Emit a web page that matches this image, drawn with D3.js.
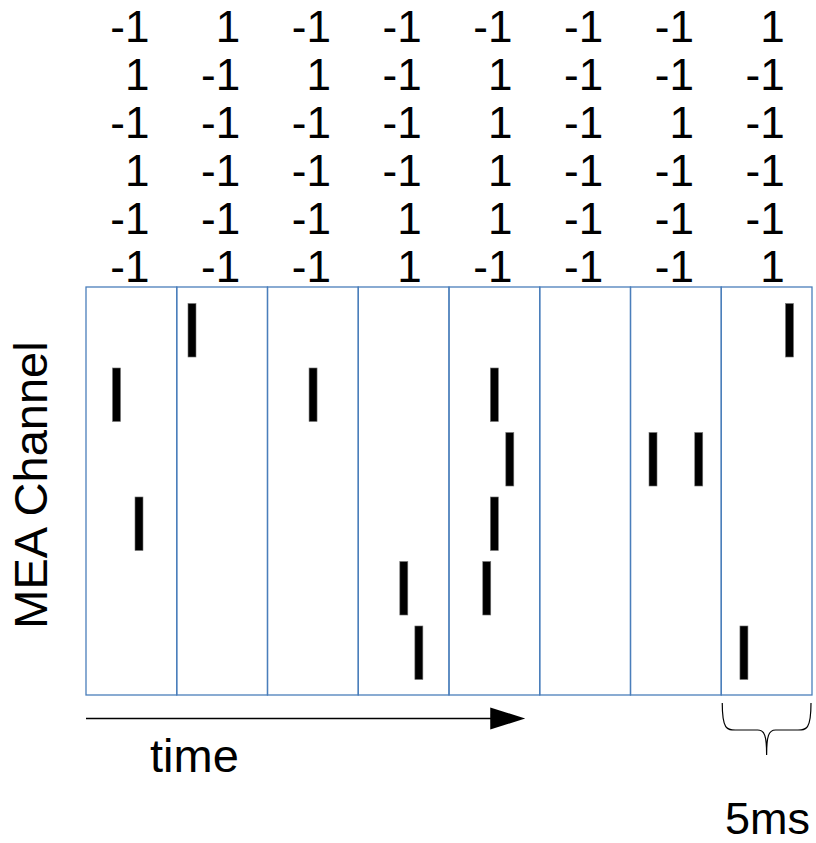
<!DOCTYPE html>
<html>
<head>
<meta charset="utf-8">
<script src="https://cdn.jsdelivr.net/npm/d3@7"></script>
<style>
  html, body { margin: 0; padding: 0; background: #fff; }
  svg { display: block; }
  text { font-family: "Liberation Sans", Arial, sans-serif; fill: #000; }
</style>
</head>
<body>
<svg id="chart" width="816" height="843"></svg>
<script>
// Time windows (5 ms each) and recording channels
const windows = [1, 2, 3, 4, 5, 6, 7, 8];
const windowMs = 5;
const channels = [1, 2, 3, 4, 5, 6];

// Binary code per channel (rows) and window (columns): 1 = spike in window
const codeRows = [
  [-1,  1, -1, -1, -1, -1, -1,  1],
  [ 1, -1,  1, -1,  1, -1, -1, -1],
  [-1, -1, -1, -1,  1, -1,  1, -1],
  [ 1, -1, -1, -1,  1, -1, -1, -1],
  [-1, -1, -1,  1,  1, -1, -1, -1],
  [-1, -1, -1,  1, -1, -1, -1,  1]
];

// Spike times (ms) for each channel
const spikeTimes = [
  [5.84, 38.76],
  [1.68, 12.51, 22.50],
  [23.35, 31.24, 33.76],
  [2.92, 22.50],
  [17.51, 22.08],
  [18.34, 36.25]
];

const svg = d3.select("#chart");
const plot = { left: 86, right: 812, top: 287, bottom: 695 };

const x = d3.scaleLinear()
  .domain([0, windows.length * windowMs])
  .range([plot.left, plot.right]);
const xWin = d3.scaleBand().domain(windows).range([plot.left, plot.right]);
const y = d3.scaleBand().domain(channels).range([298, 685]);
const yCode = d3.scalePoint().domain(channels).range([42, 282]);

// Code table above the raster
const codeG = svg.append("g");
codeRows.forEach((row, ci) => {
  codeG.selectAll(null)
    .data(row.map((v, wi) => ({ v, w: windows[wi] })))
    .join("text")
    .attr("x", d => xWin(d.w) + xWin.bandwidth() / 2 + 18)
    .attr("y", yCode(channels[ci]))
    .attr("text-anchor", "end")
    .attr("font-size", 44)
    .text(d => d.v);
});

// Window cells
svg.append("g").selectAll("rect")
  .data(windows)
  .join("rect")
  .attr("x", d => xWin(d))
  .attr("y", plot.top)
  .attr("width", xWin.bandwidth())
  .attr("height", plot.bottom - plot.top)
  .attr("fill", "none")
  .attr("stroke", "#4a7ebb")
  .attr("stroke-width", 1.3);

// Spikes
const spikeW = 8;
const spikeH = y.bandwidth() * 0.83;
const spikes = spikeTimes.flatMap((ts, ci) => ts.map(t => ({ t, ch: channels[ci] })));
svg.append("g").selectAll("rect")
  .data(spikes)
  .join("rect")
  .attr("x", d => x(d.t) - spikeW / 2)
  .attr("y", d => y(d.ch) + (y.bandwidth() - spikeH) / 2)
  .attr("width", spikeW)
  .attr("height", spikeH)
  .attr("fill", "#000")
  .attr("stroke", "#777")
  .attr("stroke-width", 0.6);

// Y label
svg.append("text")
  .attr("transform", `translate(47, ${(plot.top + plot.bottom) / 2 - 6}) rotate(-90)`)
  .attr("text-anchor", "middle")
  .attr("font-size", 47)
  .text("MEA Channel");

// Time arrow
const arrowY = 718.5;
const arrowEnd = x(24.2);
svg.append("line")
  .attr("x1", plot.left).attr("x2", arrowEnd - 34)
  .attr("y1", arrowY).attr("y2", arrowY)
  .attr("stroke", "#000").attr("stroke-width", 1.5);
svg.append("path")
  .attr("d", `M${arrowEnd - 35},${arrowY - 11} L${arrowEnd},${arrowY} L${arrowEnd - 35},${arrowY + 11} Z`)
  .attr("fill", "#000");
svg.append("text")
  .attr("x", 150).attr("y", 772)
  .attr("font-size", 47)
  .text("time");

// Brace spanning one window
const bL = xWin(8), bR = xWin(8) + xWin.bandwidth(), bM = (bL + bR) / 2;
const bTop = 703, bMid = 730, bTip = 755;
svg.append("path")
  .attr("d", `M${bL + 1},${bTop} C${bL + 1},${bMid} ${bL + 6},${bMid} ${bL + 14},${bMid}
              L${bM - 9},${bMid} C${bM - 2},${bMid} ${bM},${bMid + 6} ${bM},${bTip}
              C${bM},${bMid + 6} ${bM + 2},${bMid} ${bM + 9},${bMid}
              L${bR - 14},${bMid} C${bR - 6},${bMid} ${bR - 1},${bMid} ${bR - 1},${bTop}`)
  .attr("fill", "none")
  .attr("stroke", "#000")
  .attr("stroke-width", 1.2);
svg.append("text")
  .attr("x", 725).attr("y", 834)
  .attr("font-size", 45)
  .text("5ms");
</script>
</body>
</html>
